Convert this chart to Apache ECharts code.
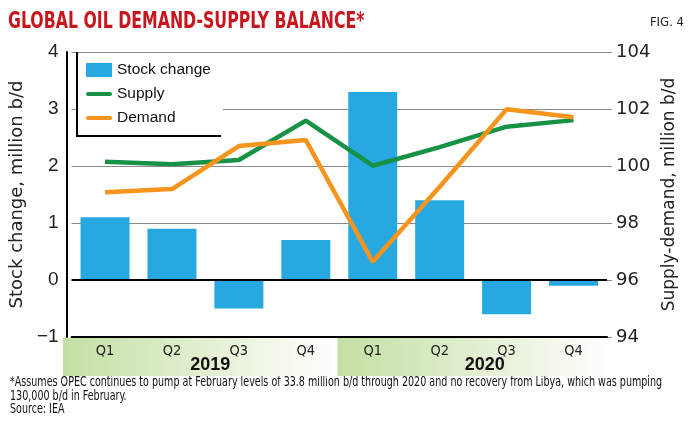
<!DOCTYPE html>
<html><head><meta charset="utf-8">
<script src="https://cdn.jsdelivr.net/npm/echarts@6/dist/echarts.min.js"></script>
<style>html,body{margin:0;padding:0;background:#fff}#c{width:688px;height:425px}</style>
</head><body><div id="c"></div>
<script>
const categories = ['Q1','Q2','Q3','Q4','Q1','Q2','Q3','Q4'];
const years = ['2019','2020'];
const stockChange = [1.1, 0.9, -0.5, 0.7, 3.3, 1.4, -0.6, -0.1];
const supply = [100.15, 100.06, 100.21, 101.59, 100.01, 100.66, 101.38, 101.61];
const demand = [99.08, 99.19, 100.70, 100.91, 96.64, 99.27, 101.99, 101.71];
const leftTicks = [-1, 4, 1];
const rightTicks = [94, 104, 2];
const yearBand = [1, 1];

const chart = echarts.init(document.getElementById('c'), null, {renderer:'canvas'});
const narrow = '"Liberation Sans Narrow","DejaVu Sans Condensed",sans-serif';
const bandGrad = new echarts.graphic.LinearGradient(0,0,1,0,[{offset:0,color:'#c4dfa2'},{offset:1,color:'#ffffff'}]);
chart.setOption({
  animation:false,
  backgroundColor:'#fff',
  grid:[
    {left:68, right:81, top:52, bottom:88, containLabel:false},
    {left:63, right:76, top:338, height:38}
  ],
  legend:{
    left:78, top:60, orient:'vertical', itemGap:8, itemWidth:26, itemHeight:14,
    backgroundColor:'#fff', padding:[2,12,12,8],
    textStyle:{fontFamily:'Liberation Sans', fontSize:15.5, color:'#111'},
    data:[
      {name:'Stock change', icon:'rect'},
      {name:'Supply', icon:'path://M2,0 H24 A2,2 0 0 1 24,4 H2 A2,2 0 0 1 2,0 Z'},
      {name:'Demand', icon:'path://M2,0 H24 A2,2 0 0 1 24,4 H2 A2,2 0 0 1 2,0 Z'}
    ]
  },
  xAxis:[
    {type:'category', gridIndex:0, data:categories, boundaryGap:true, z:10,
     axisLine:{onZero:false, lineStyle:{color:'#000', width:2}},
     axisTick:{show:false},
     axisLabel:{margin:7, fontFamily:narrow, fontSize:14.5, color:'#222'}},
    {type:'category', gridIndex:1, data:years, show:false}
  ],
  yAxis:[
    {type:'value', gridIndex:0, min:leftTicks[0], max:leftTicks[1], interval:leftTicks[2], offset:5,
     name:'Stock change, million b/d', nameLocation:'middle', nameGap:33,
     nameTextStyle:{fontFamily:'DejaVu Sans', fontSize:18, color:'#222'},
     axisLine:{show:true, lineStyle:{color:'#000', width:2}},
     axisTick:{show:false},
     axisLabel:{margin:8, fontFamily:'Liberation Sans', fontSize:19, color:'#222',
       formatter:v=> v<0 ? '\u2212'+Math.abs(v) : String(v)},
     splitLine:{show:true, lineStyle:{color:'#8a8a8a', width:1}}},
    {type:'value', gridIndex:0, position:'right', min:rightTicks[0], max:rightTicks[1], interval:rightTicks[2],
     name:'Supply-demand, million b/d', nameLocation:'middle', nameGap:53,
     nameTextStyle:{fontFamily:'DejaVu Sans', fontSize:17, color:'#222'},
     axisLine:{show:false},
     axisTick:{show:true, length:5, lineStyle:{color:'#8a8a8a'}},
     axisLabel:{margin:9, fontFamily:'DejaVu Sans', fontSize:18, color:'#222'},
     splitLine:{show:false}},
    {type:'value', gridIndex:1, min:0, max:1, show:false}
  ],
  series:[
    {name:'Stock change', type:'bar', xAxisIndex:0, yAxisIndex:0, data:stockChange, barWidth:49,
     itemStyle:{color:'#27a8e0'},
     markLine:{silent:true, symbol:'none', label:{show:false},
       lineStyle:{color:'#000', width:2, type:'solid'}, data:[{yAxis:0}]}},
    {name:'Supply', type:'line', xAxisIndex:0, yAxisIndex:1, data:supply, symbol:'none',
     lineStyle:{color:'#179146', width:4.5}, itemStyle:{color:'#179146'}, z:3},
    {name:'Demand', type:'line', xAxisIndex:0, yAxisIndex:1, data:demand, symbol:'none',
     lineStyle:{color:'#f7941d', width:4.5}, itemStyle:{color:'#f7941d'}, z:4},
    {name:'band', type:'bar', xAxisIndex:1, yAxisIndex:2, data:yearBand, barWidth:'100%', barCategoryGap:0,
     itemStyle:{color:bandGrad}, silent:true, z:1,
     label:{show:true, position:'insideBottom', distance:2, offset:[10,0],
       formatter:p=>years[p.dataIndex], fontFamily:'Liberation Sans', fontWeight:'bold', fontSize:18, color:'#111'}}
  ],
  graphic:[
    {type:'polyline', shape:{points:[[77,52],[77,136],[221,136]]}, style:{stroke:'#000', lineWidth:2, fill:null}, z:100},
    {type:'text', x:8, y:10, scaleX:0.745, style:{text:'GLOBAL OIL DEMAND-SUPPLY BALANCE*', font:'bold 23.5px '+narrow, fill:'#c8161e', verticalAlign:'top'}},
    {type:'text', right:4, top:16, style:{text:'FIG. 4', font:'13px '+narrow, fill:'#222'}},
    {type:'text', x:10, y:376, scaleX:0.788, style:{text:'*Assumes OPEC continues to pump at February levels of 33.8 million b/d through 2020 and no recovery from Libya, which was pumping\n130,000 b/d in February.\nSource: IEA', font:'13.5px '+narrow, lineHeight:13.5, fill:'#111', verticalAlign:'top'}}
  ]
});
</script></body></html>
